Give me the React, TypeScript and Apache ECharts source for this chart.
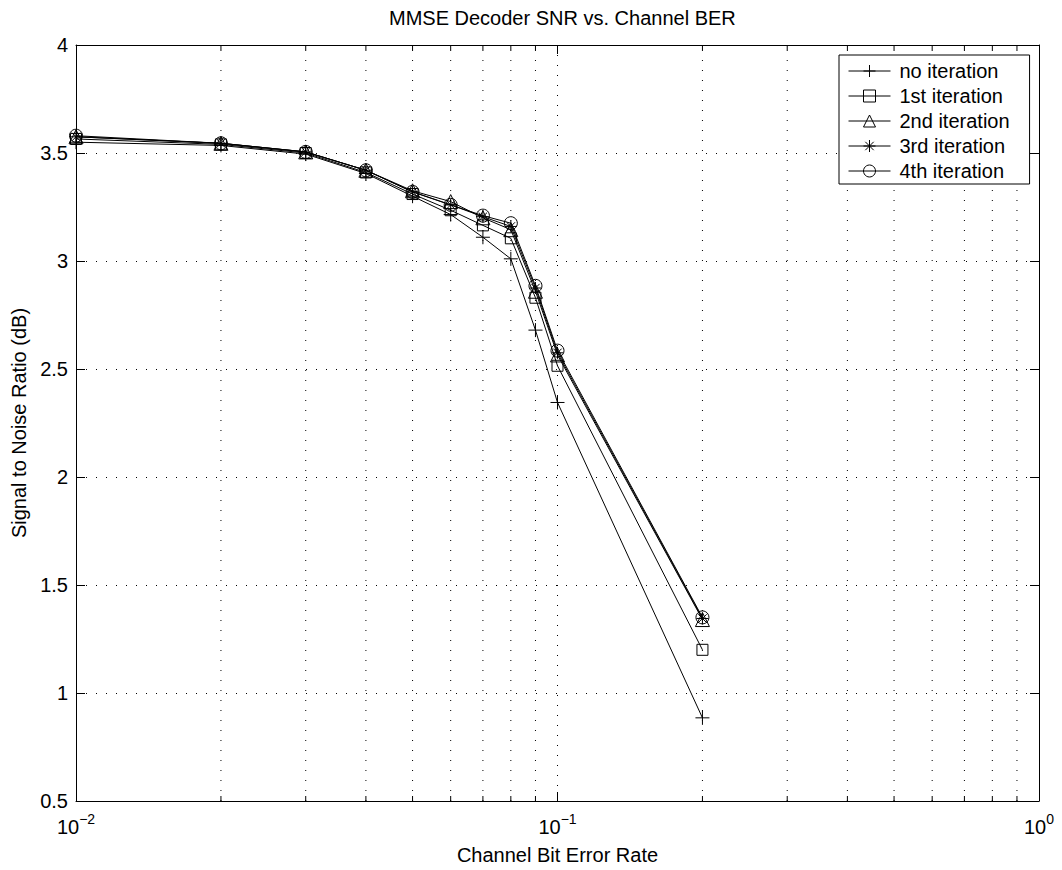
import React, { useEffect, useRef } from "react";
import * as echarts from "echarts";

const berValues = [0.01, 0.02, 0.03, 0.04, 0.05, 0.06, 0.07, 0.08, 0.09, 0.1, 0.2];
const noIteration = [3.55, 3.535, 3.495, 3.405, 3.3, 3.215, 3.11, 3.01, 2.68, 2.345, 0.885];
const iter1 = [3.565, 3.54, 3.5, 3.41, 3.31, 3.235, 3.165, 3.105, 2.83, 2.515, 1.2];
const iter2 = [3.575, 3.545, 3.505, 3.42, 3.325, 3.275, 3.2, 3.145, 2.86, 2.565, 1.34];
const iter3 = [3.575, 3.545, 3.505, 3.42, 3.32, 3.26, 3.205, 3.16, 2.875, 2.575, 1.345];
const iter4 = [3.58, 3.545, 3.505, 3.42, 3.32, 3.26, 3.21, 3.175, 2.885, 2.585, 1.35];
const seriesNames = ["no iteration", "1st iteration", "2nd iteration", "3rd iteration", "4th iteration"];
const minorTicks = [0.02, 0.03, 0.04, 0.05, 0.06, 0.07, 0.08, 0.09, 0.2, 0.3, 0.4, 0.5, 0.6, 0.7, 0.8, 0.9];
const X_MIN = 0.01;
const X_MAX = 1;
const Y_MIN = 0.5;
const Y_MAX = 4;
const Y_STEP = 0.5;

const FONT = "'Liberation Sans', Arial, Helvetica, sans-serif";
const PLUS = "path://M5,0L5,10M0,5L10,5";
const STAR = "path://M5,0L5,10M0,5L10,5M1.5,1.5L8.5,8.5M1.5,8.5L8.5,1.5";

export default function App() {
  const ref = useRef<HTMLDivElement>(null);
  useEffect(() => {
    if (!ref.current) return;
    const chart = echarts.init(ref.current, undefined, { renderer: "svg" });
    const allData = [noIteration, iter1, iter2, iter3, iter4];
    const symbols = [PLUS, "rect", "triangle", STAR, "circle"];
    const sizes = [14, 11, 14, 12, 13];
    const lineSeries = allData.map((vals, i) => ({
      type: "line",
      name: seriesNames[i],
      data: berValues.map((x, j) => [x, vals[j]]),
      symbol: symbols[i],
      symbolSize: sizes[i],
      showAllSymbol: true,
      clip: false,
      lineStyle: { color: "#000", width: 1 },
      itemStyle: { color: "rgba(0,0,0,0)", borderColor: "#000", borderWidth: 1 },
      emphasis: { disabled: true },
      z: 3 + i,
    }));
    const option: any = {
      animation: false,
      backgroundColor: "#fff",
      textStyle: { fontFamily: FONT },
      title: {
        text: "MMSE Decoder SNR vs. Channel BER",
        left: 384,
        top: 3,
        textStyle: { fontFamily: FONT, fontSize: 20, fontWeight: "normal", color: "#000" },
      },
      legend: {
        data: seriesNames,
        left: 839,
        top: 55,
        orient: "vertical",
        padding: [6, 20, 3, 9],
        itemGap: 5,
        itemWidth: 42,
        itemHeight: 15,
        borderColor: "#000",
        borderWidth: 1,
        backgroundColor: "#fff",
        selectedMode: false,
        lineStyle: { width: 1, color: "#000" },
        itemStyle: { color: "rgba(0,0,0,0)", borderColor: "#000", borderWidth: 1 },
        textStyle: { fontFamily: FONT, fontSize: 20, color: "#000", padding: [0, 0, 0, 4] },
      },
      grid: { left: 76, right: 23, top: 45, bottom: 68 },
      xAxis: [
        {
          type: "log",
          logBase: 10,
          min: X_MIN,
          max: X_MAX,
          interval: 1,
          name: "Channel Bit Error Rate",
          nameLocation: "middle",
          nameGap: 44,
          nameTextStyle: { fontFamily: FONT, fontSize: 20, color: "#000" },
          axisLine: { lineStyle: { color: "#000", width: 1 } },
          axisTick: { inside: true, length: 9, lineStyle: { color: "#000" } },
          splitLine: { show: true, lineStyle: { color: "#000", type: [1, 9], width: 1 } },
          axisLabel: {
            margin: 8,
            formatter: (v: number) => `{b|10}{s|${Math.round(Math.log10(v)) < 0 ? "\u2212" : ""}${Math.abs(Math.round(Math.log10(v)))}}`,
            rich: {
              b: { fontFamily: FONT, fontSize: 20, color: "#000", padding: [8, 0, 0, 0] },
              s: { fontFamily: FONT, fontSize: 14, color: "#000", padding: [0, 0, 8, 0] },
            },
          },
        },
        {
          type: "log",
          logBase: 10,
          min: X_MIN,
          max: X_MAX,
          interval: 1,
          position: "top",
          axisLine: { lineStyle: { color: "#000", width: 1 } },
          axisTick: { inside: true, length: 9, lineStyle: { color: "#000" } },
          axisLabel: { show: false },
          splitLine: { show: false },
        },
      ],
      yAxis: [
        {
          type: "value",
          min: Y_MIN,
          max: Y_MAX,
          interval: Y_STEP,
          name: "Signal to Noise Ratio (dB)",
          nameLocation: "middle",
          nameGap: 46,
          nameTextStyle: { fontFamily: FONT, fontSize: 20, color: "#000" },
          axisLine: { show: true, lineStyle: { color: "#000", width: 1 } },
          axisTick: { show: true, inside: true, length: 9, lineStyle: { color: "#000" } },
          splitLine: { show: true, lineStyle: { color: "#000", type: [1, 9], width: 1 } },
          axisLabel: { margin: 8, fontFamily: FONT, fontSize: 20, color: "#000" },
        },
        {
          type: "value",
          min: Y_MIN,
          max: Y_MAX,
          interval: Y_STEP,
          position: "right",
          axisLine: { show: true, lineStyle: { color: "#000", width: 1 } },
          axisTick: { show: true, inside: true, length: 9, lineStyle: { color: "#000" } },
          axisLabel: { show: false },
          splitLine: { show: false },
        },
      ],
      series: [
        {
          type: "custom",
          name: "minor",
          data: minorTicks.map((v) => [v, Y_MIN]),
          encode: { x: 0, y: 1 },
          silent: true,
          z: 1,
          renderItem: (_p: any, api: any) => {
            const v = api.value(0);
            const b = api.coord([v, Y_MIN]);
            const t = api.coord([v, Y_MAX]);
            const st = { stroke: "#000", lineWidth: 1 };
            return {
              type: "group",
              children: [
                { type: "line", shape: { x1: b[0], y1: b[1], x2: t[0], y2: t[1] }, style: { ...st, lineDash: [1, 9] } },
                { type: "line", shape: { x1: b[0], y1: b[1], x2: b[0], y2: b[1] - 5 }, style: st },
                { type: "line", shape: { x1: t[0], y1: t[1], x2: t[0], y2: t[1] + 5 }, style: st },
              ],
            };
          },
        },
        ...lineSeries,
      ],
    };
    chart.setOption(option);
    return () => chart.dispose();
  }, []);
  return (
    <div
      ref={ref}
      style={{ position: "fixed", left: 0, top: 0, width: 1062, height: 870, background: "#fff" }}
    />
  );
}
